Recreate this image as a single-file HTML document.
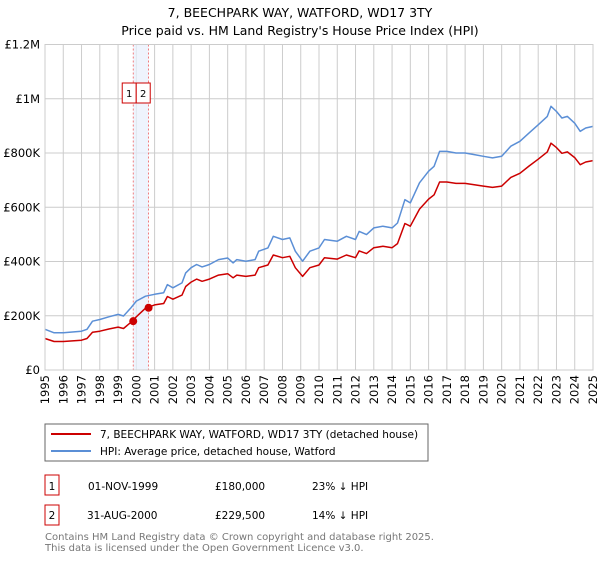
<!DOCTYPE html>
<html><head><meta charset="utf-8"><style>
body{margin:0;width:600px;height:560px;background:#fff;font-family:"Liberation Sans","DejaVu Sans",sans-serif;overflow:hidden}
svg text{font-family:"DejaVu Sans","Liberation Sans",sans-serif}
</style></head><body>
<svg id="c" width="600" height="560" xmlns="http://www.w3.org/2000/svg">
<text x="300" y="17" text-anchor="middle" font-size="12.5" fill="#000">7, BEECHPARK WAY, WATFORD, WD17 3TY</text>
<text x="300" y="35" text-anchor="middle" font-size="12.5" fill="#000">Price paid vs. HM Land Registry's House Price Index (HPI)</text>
<g id="grid"></g><g id="marks"></g><g id="series"></g><g id="axes"></g>
<rect x="45" y="424" width="383" height="37" fill="#fff" stroke="#666"/>
<line x1="51" y1="434" x2="91" y2="434" stroke="#cc0000" stroke-width="2"/>
<text x="100" y="438" font-size="10.5">7, BEECHPARK WAY, WATFORD, WD17 3TY (detached house)</text>
<line x1="51" y1="451" x2="91" y2="451" stroke="#5b8fd6" stroke-width="2"/>
<text x="100" y="455" font-size="10.5">HPI: Average price, detached house, Watford</text>
<rect x="45" y="475" width="14" height="20" fill="none" stroke="#cc0000"/>
<text x="52" y="490" font-size="10.5" text-anchor="middle">1</text>
<text x="88" y="490" font-size="10.5">01-NOV-1999</text>
<text x="215" y="490" font-size="10.5">£180,000</text>
<text x="312" y="490" font-size="10.5">23% ↓ HPI</text>
<rect x="45" y="505" width="14" height="20" fill="none" stroke="#cc0000"/>
<text x="52" y="519" font-size="10.5" text-anchor="middle">2</text>
<text x="87" y="519" font-size="10.5">31-AUG-2000</text>
<text x="215" y="519" font-size="10.5">£229,500</text>
<text x="312" y="519" font-size="10.5">14% ↓ HPI</text>
<text x="45" y="540" font-size="10" fill="#777">Contains HM Land Registry data © Crown copyright and database right 2025.</text>
<text x="45" y="551" font-size="10" fill="#777">This data is licensed under the Open Government Licence v3.0.</text>
</svg>
<script>
const years=[1995,1995.5,1996,1997,1997.3,1997.6,1998,1998.5,1999,1999.3,1999.7,2000,2000.5,2001,2001.5,2001.7,2002,2002.5,2002.7,2003,2003.3,2003.6,2004,2004.5,2005,2005.3,2005.5,2006,2006.5,2006.7,2007.2,2007.5,2008,2008.4,2008.7,2009.1,2009.5,2010,2010.3,2011,2011.5,2012,2012.2,2012.6,2013,2013.5,2014,2014.3,2014.7,2015,2015.5,2016,2016.3,2016.6,2017,2017.5,2018,2018.5,2019,2019.5,2020,2020.5,2021,2021.5,2022,2022.5,2022.7,2023,2023.3,2023.6,2024,2024.3,2024.6,2025];
const hpi=[150,137,137,143,150,180,186,196,205,199,229,254,272,279,285,315,303,321,358,377,389,380,389,407,413,395,407,401,407,438,450,493,481,487,438,401,438,450,481,475,493,481,511,499,524,530,524,542,628,616,690,733,751,806,806,800,800,794,788,782,788,825,843,874,904,935,972,953,929,935,910,880,892,898];
const price=[116,105,105,110,116,139,143,151,158,153,176,196,228,240,245,271,261,276,308,324,335,327,335,350,355,340,350,345,350,377,387,424,414,419,377,345,377,387,414,409,424,414,439,429,451,456,451,466,540,530,593,630,646,693,693,688,688,683,678,673,678,710,725,752,777,804,836,820,799,804,783,757,767,772];
const yTicks=[0,200,400,600,800,1000,1200];
const yTickLabels=["£0","£200K","£400K","£600K","£800K","£1M","£1.2M"];
const xTicks=[1995,1996,1997,1998,1999,2000,2001,2002,2003,2004,2005,2006,2007,2008,2009,2010,2011,2012,2013,2014,2015,2016,2017,2018,2019,2020,2021,2022,2023,2024,2025];
const saleYears=[1999.83,2000.67];
const salePrices=[180,229.5];
const X0=45,X1=593,Y0=370,Y1=44.5;
const x=v=>X0+(v-1995)/30*(X1-X0);
const y=v=>Y0-v/1200*(Y0-Y1);
const NS="http://www.w3.org/2000/svg";
function mk(p,t,a){const e=document.createElementNS(NS,t);for(const k in a)e.setAttribute(k,a[k]);p.appendChild(e);return e;}
const grid=document.getElementById('grid'),axes=document.getElementById('axes'),marks=document.getElementById('marks'),series=document.getElementById('series');
yTicks.forEach((v,i)=>{
 const l=mk(grid,'line',{x1:X0,x2:X1,y1:y(v),y2:y(v),stroke:'#ccc'});
 
 
 const t=mk(axes,'text',{x:X0-5,y:y(v)+4,'text-anchor':'end','font-size':'11.5'});t.textContent=yTickLabels[i];
 
 
});
xTicks.forEach(v=>{
 const l=mk(grid,'line',{x1:x(v),x2:x(v),y1:Y1,y2:Y0,stroke:'#ccc'});
 
 
 const t=mk(axes,'text',{x:0,y:0,'text-anchor':'end','font-size':'11.5',transform:`translate(${x(v)+4},${Y0+5}) rotate(-90)`});t.textContent=v;
 
 
});
const band=mk(marks,'rect',{x:x(saleYears[0]),y:Y1,width:x(saleYears[1])-x(saleYears[0]),height:Y0-Y1,fill:'#e8f0fc',opacity:0.7});


const box0=x(saleYears[0])-11;
saleYears.forEach((s,i)=>{
 const l=mk(marks,'line',{x1:x(s),x2:x(s),y1:Y1,y2:Y0,stroke:'#f06060','stroke-dasharray':'2,2','stroke-width':0.8});
 
 
 const bx=box0+i*14;
 const r=mk(marks,'rect',{x:bx,y:83,width:14,height:20,fill:'#fff',stroke:'#cc0000'});
 
 
 const t=mk(marks,'text',{x:bx+7,y:97,'text-anchor':'middle','font-size':'10'});t.textContent=i+1;
});
function path(vals,col,name){
 const d=years.map((yr,i)=>(i?'L':'M')+x(yr).toFixed(1)+','+y(vals[i]).toFixed(1)).join('');
 const p=mk(series,'path',{d:d,fill:'none',stroke:col,'stroke-width':1.5,'stroke-linejoin':'round'});
 
 
}
path(hpi,'#5b8fd6','hpi-line');
path(price,'#cc0000','property-price-line');
saleYears.forEach((s,i)=>{
 const c=mk(series,'circle',{cx:x(s),cy:y(salePrices[i]),r:4,fill:'#cc0000'});
 
 
});
const fr=mk(axes,'rect',{x:X0,y:Y1,width:X1-X0,height:Y0-Y1,fill:'none',stroke:'#ccc'});
</script>
</body></html>
